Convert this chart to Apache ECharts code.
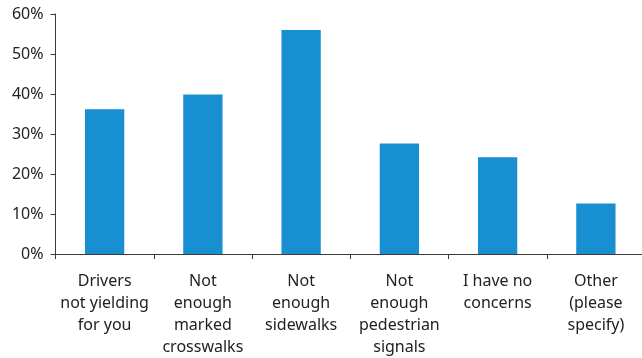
<!DOCTYPE html>
<html>
<head>
<meta charset="utf-8">
<script src="https://cdn.jsdelivr.net/npm/echarts@6/dist/echarts.min.js"></script>
<style>
  html, body { margin: 0; padding: 0; background: #ffffff; overflow: hidden; }
  /* the plot runs a few pixels past the right edge of the page */
  #chart { width: 645px; height: 358px; }
</style>
</head>
<body>
<div id="chart"></div>
<script>
// Survey responses: pedestrian safety concerns (share of respondents, %)
const categories = [
  'Drivers\nnot yielding\nfor you',
  'Not\nenough\nmarked\ncrosswalks',
  'Not\nenough\nsidewalks',
  'Not\nenough\npedestrian\nsignals',
  'I have no\nconcerns',
  'Other\n(please\nspecify)'
];
const shares = [36.2, 39.9, 56.0, 27.6, 24.2, 12.6];
const yTicks = { min: 0, max: 60, step: 10 };

const axisColor = '#3a3a3a';
const textColor = '#222222';
const fontFamily = '"Noto Sans", Roboto, sans-serif';

const chart = echarts.init(document.getElementById('chart'), null, { renderer: 'canvas' });
chart.setOption({
  animation: false,
  backgroundColor: '#ffffff',
  grid: { left: 55.5, top: 14, right: 0, bottom: 104, containLabel: false },
  xAxis: {
    type: 'category',
    data: categories,
    axisLine: { lineStyle: { color: axisColor, width: 1 } },
    axisTick: { show: true, length: 5, lineStyle: { color: axisColor } },
    axisLabel: {
      interval: 0,
      color: textColor,
      fontFamily: fontFamily,
      fontSize: 16,
      lineHeight: 22,
      margin: 16,
      align: 'center'
    },
    splitLine: { show: false }
  },
  yAxis: {
    type: 'value',
    min: yTicks.min,
    max: yTicks.max,
    interval: yTicks.step,
    axisLine: { show: true, lineStyle: { color: axisColor, width: 1 } },
    axisTick: { show: true, length: 5, lineStyle: { color: axisColor } },
    axisLabel: {
      color: textColor,
      fontFamily: fontFamily,
      fontSize: 16,
      margin: 12,
      formatter: '{value}%'
    },
    splitLine: { show: false }
  },
  series: [{
    type: 'bar',
    data: shares,
    barWidth: '40%',
    itemStyle: { color: '#178fd0' }
  }]
});
</script>
</body>
</html>
